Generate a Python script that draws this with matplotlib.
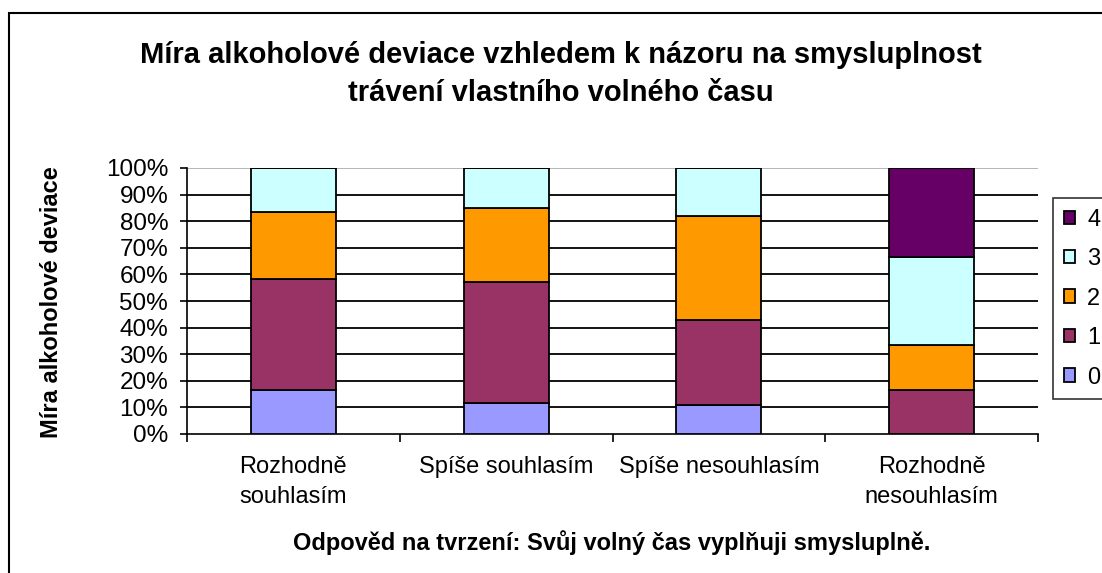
import numpy as np
import matplotlib
matplotlib.use("Agg")
import matplotlib.pyplot as plt
from matplotlib.patches import Rectangle

plt.rcParams['font.family'] = ['Liberation Sans', 'DejaVu Sans']

# -------------------------------
# Data (shares in %)
# -------------------------------
categories = ["Rozhodně\nsouhlasím", "Spíše souhlasím", "Spíše nesouhlasím", "Rozhodně\nnesouhlasím"]
levels = ["0", "1", "2", "3", "4"]
share_0 = [16.7, 11.7, 11.0, 0.0]
share_1 = [41.6, 45.4, 31.9, 16.7]
share_2 = [25.0, 27.9, 39.1, 16.6]
share_3 = [16.7, 15.0, 18.0, 33.4]
share_4 = [0.0, 0.0, 0.0, 33.3]
colors = ["#9999FF", "#993366", "#FF9900", "#CCFFFF", "#660066"]

title = "Míra alkoholové deviace vzhledem k názoru na smysluplnost\ntrávení vlastního volného času"
ylabel = "Míra alkoholové deviace"
xlabel = "Odpověd na tvrzení: Svůj volný čas vyplňuji smysluplně."

# -------------------------------
# Plot
# -------------------------------
W, H = 1102, 573
fig = plt.figure(figsize=(W / 100, H / 100), dpi=100)
ax = fig.add_axes([187 / W, 1 - 434 / H, (1038 - 187) / W, (434 - 168) / H])

series = [share_0, share_1, share_2, share_3, share_4]
x = np.arange(len(categories))
bottom = np.zeros(len(categories))
handles = []
for lvl, vals, col in zip(levels, series, colors):
    vals = np.array(vals)
    b = ax.bar(x, vals, bottom=bottom, width=0.4, color=col, edgecolor="black",
               linewidth=1.3, label=lvl, zorder=3)
    handles.append(b)
    bottom += vals

ax.set_xlim(-0.5, len(categories) - 0.5)
ax.set_ylim(0, 100)

# gridlines
for v in range(10, 100, 10):
    ax.axhline(v, color="black", linewidth=1.3, zorder=1)
ax.axhline(100, color="#b0b0b0", linewidth=1.3, zorder=1)

ax.set_yticks(np.arange(0, 101, 10))
ax.set_yticklabels([f"{v}%" for v in range(0, 101, 10)], fontsize=17.5)
ax.set_xticks(x)
ax.set_xticklabels(categories, fontsize=17, linespacing=1.45)
ax.tick_params(axis="x", length=0, pad=16)
ax.tick_params(axis="y", length=5, width=1.2, direction="out", pad=8.5)
ax.set_xticks(np.arange(-0.5, len(categories)), minor=True)
ax.tick_params(axis="x", which="minor", length=6, width=1.2, direction="out")

for s in ["top", "right"]:
    ax.spines[s].set_visible(False)
ax.spines["left"].set_linewidth(1.2)
ax.spines["bottom"].set_linewidth(1.2)

fig.text(561 / W, 1 - 74 / H, title, ha="center", va="center", fontsize=21,
         fontweight="bold", linespacing=1.42)
fig.text(52 / W, 1 - 302 / H, ylabel, ha="center", va="center", rotation=90,
         fontsize=17, fontweight="bold")
fig.text(612 / W, 1 - 543 / H, xlabel, ha="center", va="center", fontsize=17,
         fontweight="bold")

leg = fig.legend(handles[::-1], levels[::-1], loc="upper left",
                 bbox_to_anchor=(1053 / W, 1 - 198 / H), fontsize=17,
                 frameon=True, fancybox=False, edgecolor="black",
                 handlelength=0.5, handleheight=0.5, handletextpad=0.5,
                 labelspacing=0.74, borderpad=0.45, borderaxespad=0)
leg.get_frame().set_linewidth(1.2)

# outer chart border (cut off on the right and bottom)
fig.patches.append(Rectangle((9 / W, -0.1), 1.2, 1.1 - 13 / H, transform=fig.transFigure,
                             fill=False, edgecolor="black", linewidth=1.5))

fig.savefig("out.png", dpi=100)
